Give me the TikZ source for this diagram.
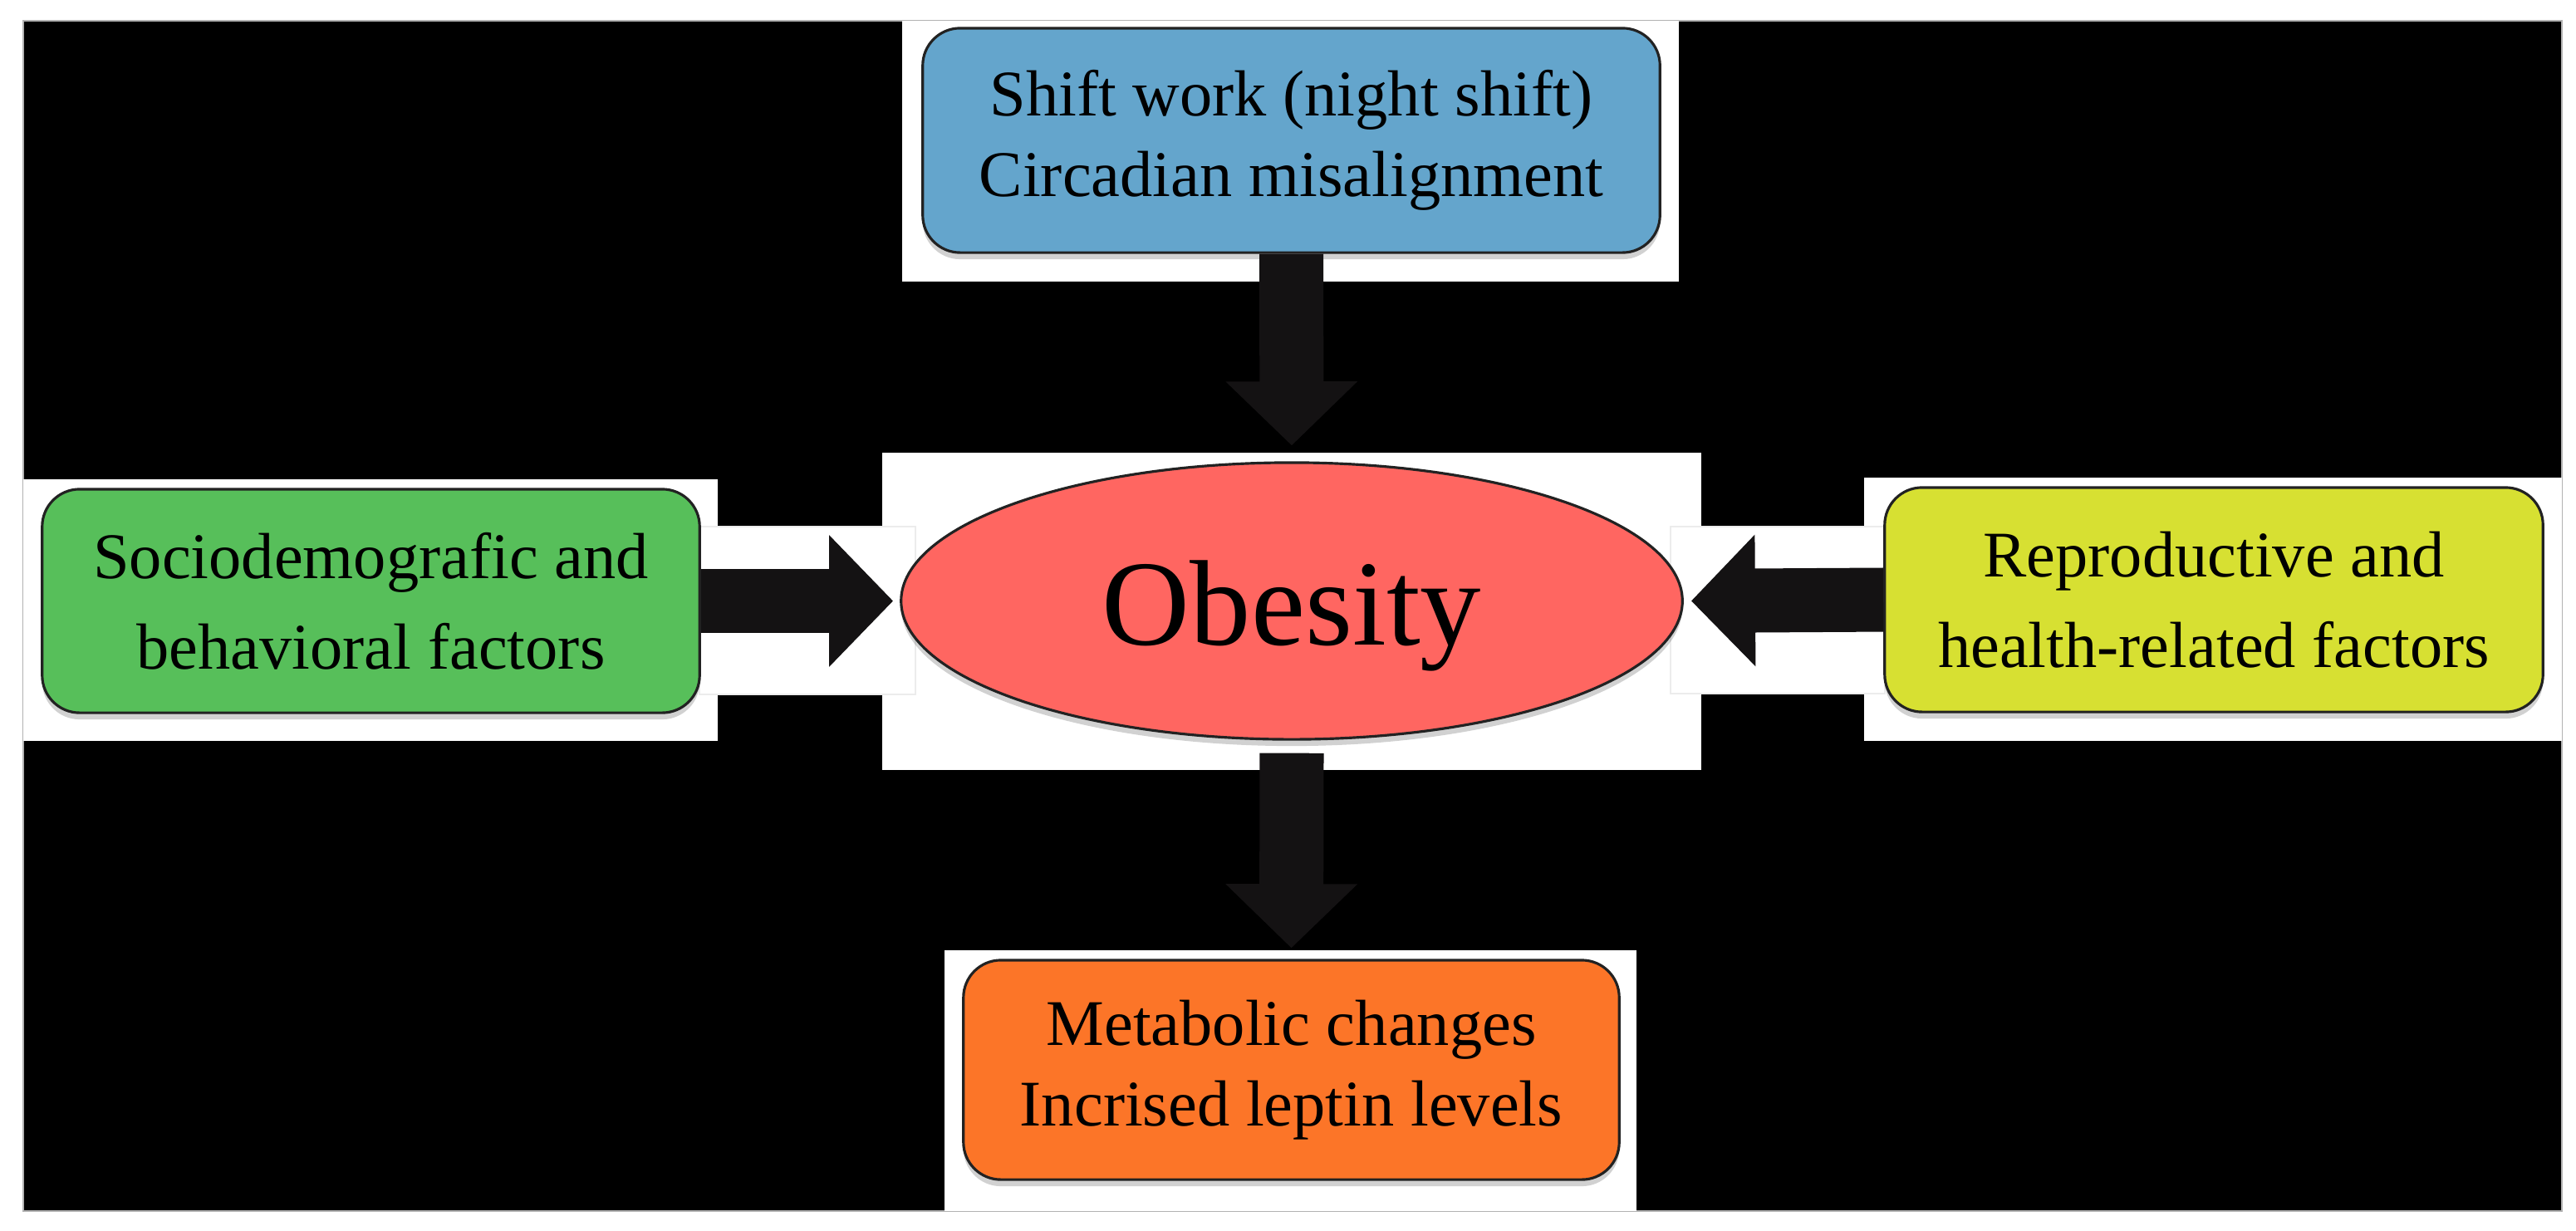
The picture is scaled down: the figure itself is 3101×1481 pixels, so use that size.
\documentclass[tikz,border=0pt]{standalone}
\usepackage{fontspec}
\setmainfont{Liberation Serif}
\usetikzlibrary{arrows.meta,shapes.geometric,shadows}
\definecolor{boxblue}{RGB}{100,165,204}
\definecolor{boxgreen}{RGB}{87,191,90}
\definecolor{boxyellow}{RGB}{215,224,50}
\definecolor{boxorange}{RGB}{252,117,40}
\definecolor{ellred}{RGB}{255,102,97}
\definecolor{arrowfill}{RGB}{20,18,19}
\definecolor{edgegray}{RGB}{34,34,34}
\tikzset{
  factorbox/.style={draw=edgegray, line width=0.9pt, rounded corners=0.45cm,
    inner sep=0pt, align=center, text=black,
    drop shadow={shadow xshift=0cm, shadow yshift=-0.08cm, fill=black, opacity=0.18}},
  twolinetight/.style={font=\fontsize{22.3}{27.5}\selectfont},
  twolinewide/.style={font=\fontsize{22.3}{31}\selectfont},
  bigarrow/.style={draw=arrowfill, line width=0.77cm, line cap=butt,
    -{Triangle[length=0.77cm, width=1.54cm]}},
  panel/.style={fill=white},
  arrowpanel/.style={fill=white, draw=gray!15, line width=0.4pt}
}
\begin{document}
\begin{tikzpicture}[x=0.01cm, y=-0.01cm]
\useasboundingbox (0,0) rectangle (3101,1481);
% black backdrop
\fill[white] (0,0) rectangle (3101,1481);
\filldraw[fill=black, draw=gray!60, line width=0.6pt] (28,25) rectangle (3084,1458);
% white panels
\fill[panel] (1086,25) rectangle (2021,339);
\fill[panel] (28,577) rectangle (864,892);
\fill[panel] (1062,545) rectangle (2048,927);
\fill[panel] (2244,575) rectangle (3084,892);
\fill[panel] (1137,1144) rectangle (1970,1458);
\filldraw[arrowpanel] (842,634) rectangle (1102,836);
\filldraw[arrowpanel] (2011,634) rectangle (2269,835);
% nodes
\node[factorbox, twolinetight, fill=boxblue, minimum width=8.87cm, minimum height=2.70cm]
  (shift) at (1554.5,169) {Shift work (night shift)\\Circadian misalignment};
\node[factorbox, twolinewide, fill=boxgreen, minimum width=7.91cm, minimum height=2.69cm]
  (socio) at (446.5,723.5) {Sociodemografic and\\behavioral factors};
\node[factorbox, twolinewide, fill=boxyellow, minimum width=7.92cm, minimum height=2.70cm]
  (repro) at (2665,722) {Reproductive and\\health-related factors};
\node[factorbox, twolinetight, fill=boxorange, minimum width=7.89cm, minimum height=2.64cm]
  (meta) at (1554.5,1288) {Metabolic changes\\Incrised leptin levels};
\node[ellipse, draw=edgegray, line width=0.9pt, fill=ellred, inner sep=0pt,
  minimum width=9.40cm, minimum height=3.33cm,
  font=\fontsize{41.7}{48}\selectfont, text height=30.4pt, text depth=0pt,
  drop shadow={shadow xshift=0cm, shadow yshift=-0.08cm, fill=black, opacity=0.18}]
  (obesity) at (1555,723.5) {Obesity};
% arrows
\draw[bigarrow, shorten >=0.19cm] (shift.south) -- (obesity.north);
\draw[bigarrow, shorten <=0.15cm, shorten >=0.13cm] (obesity.south) -- (meta.north);
\draw[bigarrow, shorten >=0.08cm] (socio.east) -- (obesity.west);
\draw[bigarrow, shorten >=0.09cm] (repro.west) -- (obesity.east);
\end{tikzpicture}
\end{document}
